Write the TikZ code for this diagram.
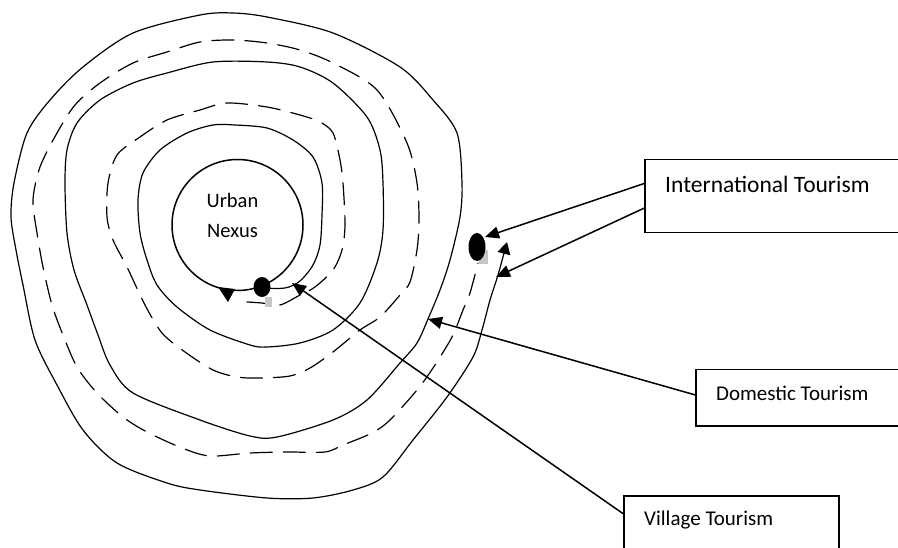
\documentclass[tikz,border=0pt]{standalone}
\usepackage{fontspec}
\setmainfont{Carlito}
\usetikzlibrary{arrows.meta,calc,shapes.geometric}
\begin{document}
\begin{tikzpicture}[x=1pt,y=-1pt,
  spiral/.style={line width=1.2pt, line join=round, line cap=round},
  dashspiral/.style={spiral, dash pattern=on 22pt off 11pt},
  box/.style={draw, line width=1.5pt, rectangle, inner sep=0pt},
  pointer/.style={line width=1.5pt, -{Triangle[length=14pt,width=12pt]}},
  lbl/.style={inner sep=0pt, anchor=base west},
  dotshadow/.style={fill=black!22},
  ]
\useasboundingbox (0,0) rectangle (898,548);

% solid spiral
\draw[spiral, -{Triangle[length=12pt,width=13pt]}] plot[smooth, tension=0.5] coordinates {
(262,288) (285,288) (300,281) (313,265) (320,245) (322,215) (322,183) (313,157) (293,140) (267,128) (235,125) (213,125) (187,133) (160,150) (143,173) (138,200) (140,233) (147,260) (157,285) (177,307) (210,330) (250,345) (267,347) (300,343) (333,330) (360,303) (377,263) (383,230) (383,183) (380,150) (367,117) (333,83) (300,67) (267,62) (213,62) (167,73) (133,83) (100,100) (77,123) (67,150) (65,183) (67,233) (74,270) (87,305) (98,335) (110,365) (133,393) (200,420) (250,436) (277,437) (333,420) (367,400) (400,363) (417,343) (428,319) (440,290) (450,260) (460,217) (462,183) (457,133) (433,100) (400,67) (333,33) (267,17) (233,13) (200,15) (133,33) (83,67) (50,100) (27,133) (14,183) (11,217) (16,250) (23,285) (35,340) (57,385) (83,430) (117,463) (167,483) (200,490) (267,498) (313,498) (353,490) (383,477) (413,440) (447,397) (473,357) (482,330) (490,300) (498,275) (507,242)};

% dashed spiral
\draw[dashspiral] plot[smooth, tension=0.5] coordinates {
(247,302) (262,303) (280,305) (300,295) (315,287) (333,270) (342,250) (345,225) (343,183) (340,160) (333,133) (320,122) (300,115) (267,107) (227,103) (200,110) (167,120) (140,137) (117,155) (108,183) (107,217) (113,240) (127,267) (145,305) (162,333) (185,352) (213,370) (237,377) (260,378) (290,376) (310,368) (333,352) (360,330) (380,317) (400,295) (410,282) (417,250) (419,220) (417,183) (407,143) (377,90) (333,63) (300,50) (267,43) (233,40) (200,42) (167,52) (133,63) (100,83) (75,105) (57,133) (40,167) (33,200) (37,233) (43,267) (52,305) (63,335) (77,367) (97,393) (123,417) (147,432) (182,448) (210,456) (250,453) (287,452) (325,452) (343,445) (372,433) (390,420) (417,390) (433,368) (452,337) (463,310) (470,293) (478,263)};

% central circle
\node[circle, draw, line width=1.5pt, minimum size=131pt, inner sep=0pt] (nexus) at (237.5,225) {};
\node[inner sep=0pt, anchor=base] (urban) at (232.5,208) {\fontsize{20.5}{24}\selectfont Urban};
\node[inner sep=0pt, anchor=base] (nexustxt) at (232.5,238) {\fontsize{20.5}{24}\selectfont Nexus};
\fill (218,287) -- (235,289) -- (228,302) -- cycle;

% dots with shadows
\fill[dotshadow] (265,297) rectangle (272,307);
\node[ellipse, fill=black, minimum width=17pt, minimum height=20pt, inner sep=0pt] (dotA) at (262,287) {};
\fill[dotshadow] (479,250) rectangle (488,264);
\node[ellipse, fill=black, minimum width=17pt, minimum height=28pt, inner sep=0pt] (dotB) at (477,247) {};

% boxes
\node[box, anchor=north west, minimum width=262pt, minimum height=73pt] (intl) at (644,159) {};
\node[lbl] (intltxt) at (665,193) {\fontsize{23.5}{28}\selectfont International Tourism};
\node[box, anchor=north west, minimum width=212pt, minimum height=56pt] (dom) at (695,369) {};
\node[lbl] (domtxt) at (716,400) {\fontsize{21}{25}\selectfont Domestic Tourism};
\node[box, anchor=north west, minimum width=215pt, minimum height=70pt] (vill) at (623,495) {};
\node[lbl] (villtxt) at (644,525) {\fontsize{21}{25}\selectfont Village Tourism};

% arrow targets
\coordinate (tIntlA) at (485,237);
\coordinate (tIntlB) at (496,277);
\coordinate (tDom) at (428,319);
\coordinate (tVill) at (292,283);

\draw[pointer] ($(intl.north west)!0.33!(intl.south west)$) -- (tIntlA);
\draw[pointer] ($(intl.north west)!0.66!(intl.south west)$) -- (tIntlB);
\draw[pointer] ($(dom.north west)!0.45!(dom.south west)$) -- (tDom);
\draw[pointer] ($(vill.north west)!0.26!(vill.south west)$) -- (tVill);
\end{tikzpicture}
\end{document}
